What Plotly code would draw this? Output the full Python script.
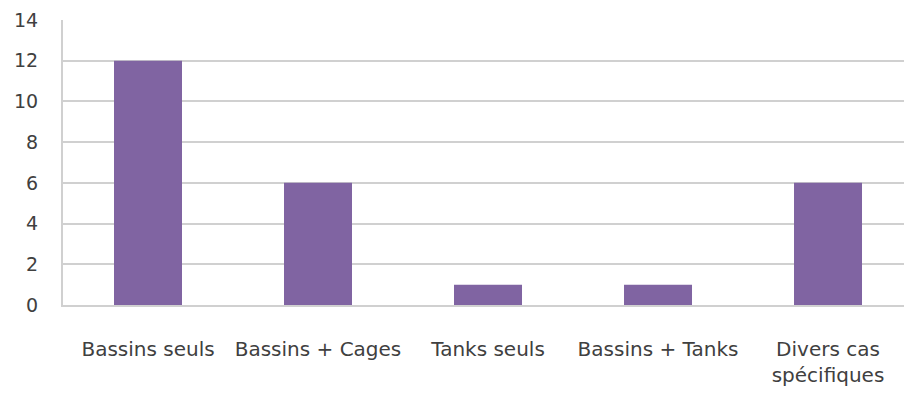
import plotly.graph_objects as go

categories = ["Bassins seuls", "Bassins + Cages", "Tanks seuls", "Bassins + Tanks", "Divers cas<br>spécifiques"]
values = [12, 6, 1, 1, 6]
y_ticks = [0, 2, 4, 6, 8, 10, 12, 14]

bar_color = "#8064A2"
text_color = "#404040"
grid_color = "#D0D0D0"
font_family = "DejaVu Sans"

fig = go.Figure(
    go.Bar(
        x=list(range(len(categories))),
        y=values,
        marker=dict(color=bar_color, line=dict(width=0)),
        width=0.4,
    )
)

fig.update_layout(
    width=904,
    height=394,
    margin=dict(l=63, r=0, t=20, b=89),
    paper_bgcolor="white",
    plot_bgcolor="white",
    showlegend=False,
    font=dict(family=font_family, size=20, color=text_color),
)

fig.update_xaxes(
    tickmode="array",
    tickvals=list(range(len(categories))),
    ticktext=categories,
    range=[-0.5, 4.447],
    showgrid=False,
    showline=True,
    linecolor=grid_color,
    linewidth=2,
    ticks="",
    ticklabelstandoff=25,
    zeroline=False,
    fixedrange=True,
)

fig.update_yaxes(
    range=[0, 14],
    tickmode="array",
    tickvals=y_ticks,
    showgrid=True,
    gridcolor=grid_color,
    gridwidth=2,
    showline=True,
    linecolor=grid_color,
    linewidth=2,
    ticks="",
    ticklabelstandoff=19,
    tickfont=dict(size=19),
    zeroline=False,
    fixedrange=True,
)

fig.write_html("out.html")
